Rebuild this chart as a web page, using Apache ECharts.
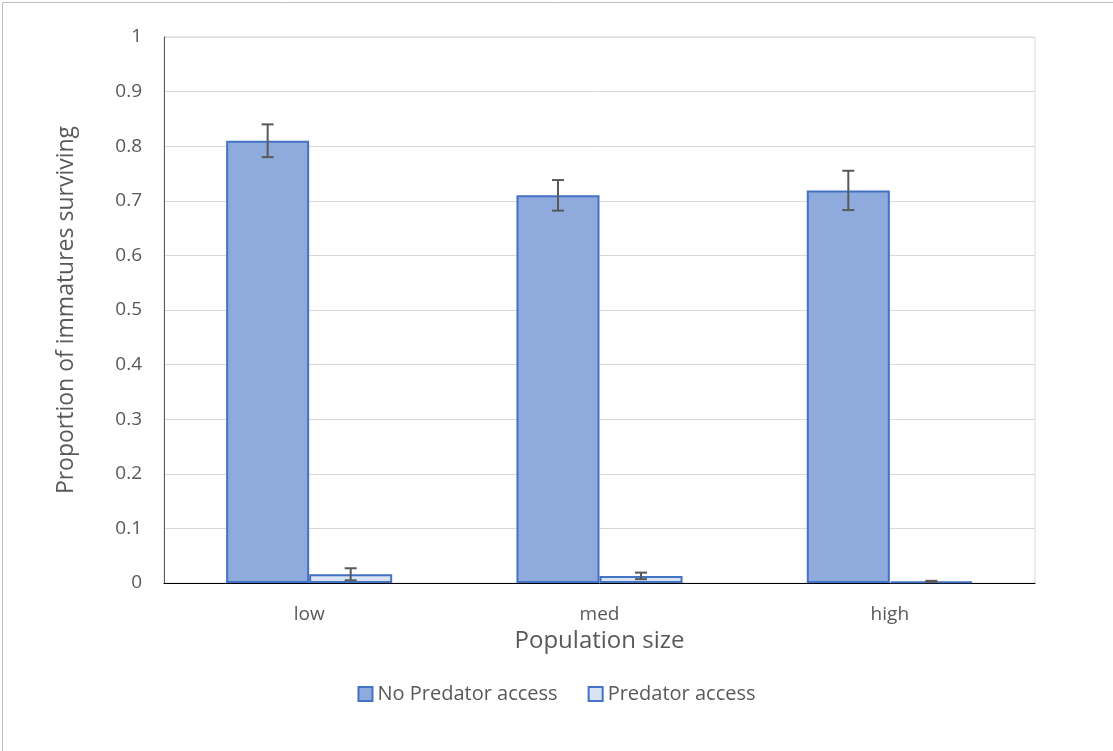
<!DOCTYPE html>
<html>
<head>
<meta charset="utf-8">
<script src="https://cdn.jsdelivr.net/npm/echarts@6/dist/echarts.min.js"></script>
<style>
html,body{margin:0;padding:0;background:#fff;}
#c{width:1113px;height:751px;}
</style>
</head>
<body>
<div id="c"></div>
<script>
const categories = ['low', 'med', 'high'];
const noPredator = [0.81, 0.71, 0.719];
const noPredatorErr = [0.03, 0.028, 0.036];
const predator = [0.016, 0.013, 0.003];
const predatorErr = [0.011, 0.006, 0.001];
const yTicks = [0, 0.1, 0.2, 0.3, 0.4, 0.5, 0.6, 0.7, 0.8, 0.9, 1];

const chart = echarts.init(document.getElementById('c'));
const BAR_PCT = 28.6;

function errSeries(vals, errs, side) {
  return {
    type: 'custom',
    silent: true,
    z: 10,
    data: vals.map((v, i) => [i, v, errs[i]]),
    renderItem: function (params, api) {
      const i = api.value(0), v = api.value(1), e = api.value(2);
      const band = api.size([1, 0])[0];
      const off = side * band * BAR_PCT / 100 / 2;
      const top = api.coord([i, v + e]);
      const bot = api.coord([i, v - e]);
      const x = top[0] + off;
      const cap = 6;
      const st = { stroke: '#595959', lineWidth: 2 };
      return {
        type: 'group',
        children: [
          { type: 'line', shape: { x1: x, y1: top[1], x2: x, y2: bot[1] }, style: st },
          { type: 'line', shape: { x1: x - cap, y1: top[1], x2: x + cap, y2: top[1] }, style: st },
          { type: 'line', shape: { x1: x - cap, y1: bot[1], x2: x + cap, y2: bot[1] }, style: st }
        ]
      };
    }
  };
}

chart.setOption({
  animation: false,
  textStyle: { fontFamily: 'Open Sans, Noto Sans, sans-serif' },
  graphic: [{
    type: 'rect', left: 0, top: 0, z: -10,
    shape: { x: 0.5, y: 0.5, width: 1112, height: 750 },
    style: { fill: 'none', stroke: '#BFBFBF', lineWidth: 1 }
  }],
  grid: { left: 164, right: 78, top: 37, bottom: 168, show: true, borderColor: '#D9D9D9', borderWidth: 1 },
  legend: {
    top: 679,
    left: 'center',
    itemWidth: 14, itemHeight: 14,
    itemGap: 30,
    icon: 'rect',
    textStyle: { fontSize: 20, color: '#595959' },
    data: ['No Predator access', 'Predator access']
  },
  xAxis: {
    type: 'category',
    data: categories,
    name: 'Population size',
    nameLocation: 'middle',
    nameGap: 37,
    nameTextStyle: { fontSize: 24, color: '#595959' },
    axisLine: { lineStyle: { color: '#000', width: 1 } },
    axisTick: { show: false },
    axisLabel: { fontSize: 19, color: '#595959', margin: 22 }
  },
  yAxis: {
    type: 'value',
    min: 0, max: 1, interval: 0.1,
    name: 'Proportion of immatures surviving',
    nameLocation: 'middle',
    nameGap: 86,
    nameTextStyle: { fontSize: 23, color: '#595959' },
    axisLine: { show: true, lineStyle: { color: '#595959', width: 1 } },
    axisTick: { show: false },
    splitLine: { lineStyle: { color: '#D9D9D9', width: 1 } },
    axisLabel: {
      fontSize: 19, color: '#595959', margin: 22,
      formatter: function (v) { const t = yTicks.find(x => Math.abs(x - v) < 1e-9); return t === undefined ? '' : String(t); }
    }
  },
  series: [
    {
      name: 'No Predator access', type: 'bar', data: noPredator,
      barWidth: BAR_PCT + '%', barGap: '0%',
      itemStyle: { color: '#8FAADC', borderColor: '#4472C4', borderWidth: 2 }
    },
    {
      name: 'Predator access', type: 'bar', data: predator,
      barWidth: BAR_PCT + '%', barGap: '0%',
      itemStyle: { color: '#DAE3F3', borderColor: '#4472C4', borderWidth: 2 }
    },
    errSeries(noPredator, noPredatorErr, -1),
    errSeries(predator, predatorErr, 1)
  ]
});
</script>
</body>
</html>
